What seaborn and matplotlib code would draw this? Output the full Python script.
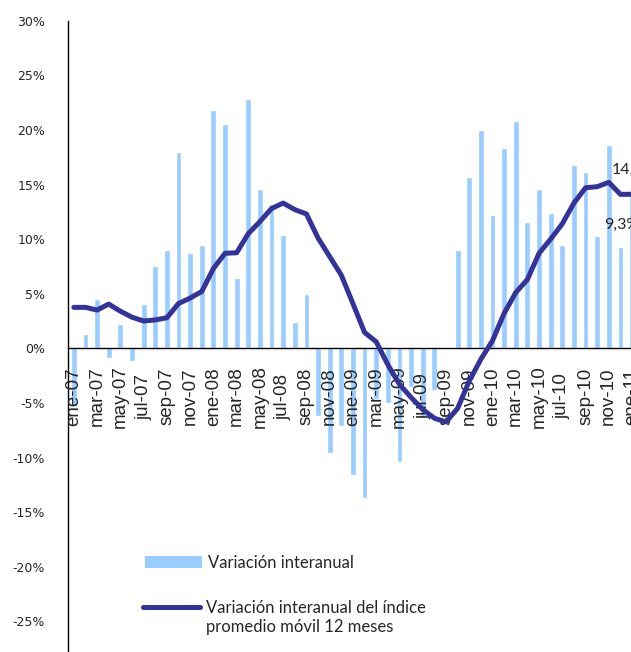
import numpy as np
import pandas as pd
import matplotlib
matplotlib.use("Agg")
import matplotlib.pyplot as plt
import seaborn as sns
from matplotlib.patches import Patch
from matplotlib.lines import Line2D

# Periodos mensuales ene-07 .. ene-11
meses = ["ene", "feb", "mar", "abr", "may", "jun", "jul", "ago", "sep", "oct", "nov", "dic"]
periodos = [f"{m}-{a:02d}" for a in range(7, 11) for m in meses] + ["ene-11"]

# Variación interanual (%)
var_interanual = [-5.3, 1.3, 4.5, -0.85, 2.2, -1.15, 4.1, 7.5, 9.0, 18.0, 8.7, 9.5,
                  21.8, 20.5, 6.4, 22.8, 14.6, 13.2, 10.4, 2.4, 5.0, -6.2, -9.6, -7.1,
                  -11.6, -13.7, -4.6, -5.0, -10.4, -3.5, -6.4, -3.8, np.nan, 9.0, 15.7, 20.0,
                  12.2, 18.3, 20.8, 11.6, 14.6, 12.4, 9.5, 16.8, 16.1, 10.3, 18.6, 9.3,
                  14.5]

# Variación interanual del índice promedio móvil 12 meses (%)
var_movil = [3.75, 3.75, 3.5, 4.05, 3.4, 2.85, 2.5, 2.6, 2.8, 4.1, 4.6, 5.2,
             7.3, 8.7, 8.75, 10.5, 11.6, 12.8, 13.3, 12.7, 12.3, 10.1, 8.4, 6.7,
             4.1, 1.45, 0.6, -1.5, -3.3, -4.5, -5.6, -6.4, -6.75, -5.5, -3.0, -1.0,
             0.7, 3.2, 5.1, 6.3, 8.7, 10.0, 11.4, 13.3, 14.7, 14.8, 15.2, 14.1,
             14.1]

y_ticks = list(range(-25, 31, 5))

serie_barras = "Variación interanual"
serie_linea = ["Variación interanual del índice", "promedio móvil 12 meses"]

color_barras = "#99CCFF"
color_linea = "#333399"

sns.set_style("white")
plt.rcParams["font.family"] = ["Liberation Sans", "DejaVu Sans"]

df = pd.DataFrame({
    "pos": np.arange(len(periodos)),
    "periodo": periodos,
    "interanual": var_interanual,
    "movil": var_movil,
})

W, H = 631, 652
fig = plt.figure(figsize=(W / 100, H / 100), dpi=100)
paso = 11.63
ax = fig.add_axes([68 / W, 0, len(periodos) * paso / W, (H - 20.7) / H])
ax.set_axisbelow(False)

sns.barplot(data=df, x="pos", y="interanual", native_scale=True, width=0.5,
            color=color_barras, saturation=1, ax=ax, zorder=2)
sns.lineplot(data=df, x="pos", y="movil", color=color_linea, lw=3.6, ax=ax,
             zorder=3, solid_joinstyle="round", solid_capstyle="round")

ax.set_xlim(-0.5, len(periodos) - 0.5)
ax.set_ylim(-27.81, 30)
ax.set_xlabel("")
ax.set_ylabel("")

# Ejes: eje X cruzando en 0
for s in ("top", "right"):
    ax.spines[s].set_visible(False)
ax.spines["bottom"].set_position(("data", 0))
for s in ("bottom", "left"):
    ax.spines[s].set_color("black")
    ax.spines[s].set_linewidth(1.0)
    ax.spines[s].set_zorder(2.5)

# Marcas entre categorías cada dos meses, etiquetas centradas en la categoría
ax.set_xticks(np.arange(1.5, len(periodos) - 0.5, 2))
ax.set_xticklabels([])
ax.set_xticks(np.arange(0, len(periodos), 2), minor=True)
ax.set_xticklabels(periodos[::2], minor=True, rotation=90, fontsize=13.5)
ax.tick_params(axis="x", which="major", direction="out", length=4, width=1, color="black")
ax.tick_params(axis="x", which="minor", length=0, pad=34.7)
for lab in ax.get_xticklabels(minor=True):
    lab.set_verticalalignment("center")

ax.set_yticks(y_ticks)
ax.set_yticklabels([f"{v}%" for v in y_ticks], fontsize=9, family="DejaVu Sans")
ax.tick_params(axis="y", direction="out", length=4.5, width=1, color="black", pad=12)

# Rótulos de valor del último mes
i_ult = len(periodos) - 2
ax.annotate(f"{var_movil[i_ult]:.1f}%".replace(".", ","), xy=(i_ult, var_movil[i_ult]),
            xytext=(-6.3, 17.5), textcoords="offset points", ha="left", va="center",
            fontsize=11.5, family="Lato", annotation_clip=False, zorder=4)
ax.annotate(f"{var_interanual[i_ult]:.1f}%".replace(".", ","), xy=(i_ult, var_interanual[i_ult]),
            xytext=(-11.9, 15.6), textcoords="offset points", ha="left", va="center",
            fontsize=11.5, family="Lato", annotation_clip=False, zorder=4)

# Leyenda: barras
leg_kw = dict(bbox_transform=fig.transFigure, frameon=False,
              prop={"family": "Lato", "size": 12}, handlelength=3.4,
              handletextpad=0.35, borderpad=0, borderaxespad=0)
fig.legend([Patch(facecolor=color_barras, edgecolor="none")], [serie_barras],
           loc="center left", bbox_to_anchor=(145 / W, 1 - 563 / H), **leg_kw)
# Leyenda: línea (texto en dos renglones, trazo junto al primero)
fig.legend([Line2D([0], [0], color=color_linea, lw=3.6, solid_capstyle="round"),
            Line2D([0], [0], color="none", lw=0)],
           serie_linea, loc="center left", labelspacing=0.2,
           bbox_to_anchor=(143 / W, 1 - 617.5 / H), **leg_kw)

fig.savefig("out.png", dpi=100)
